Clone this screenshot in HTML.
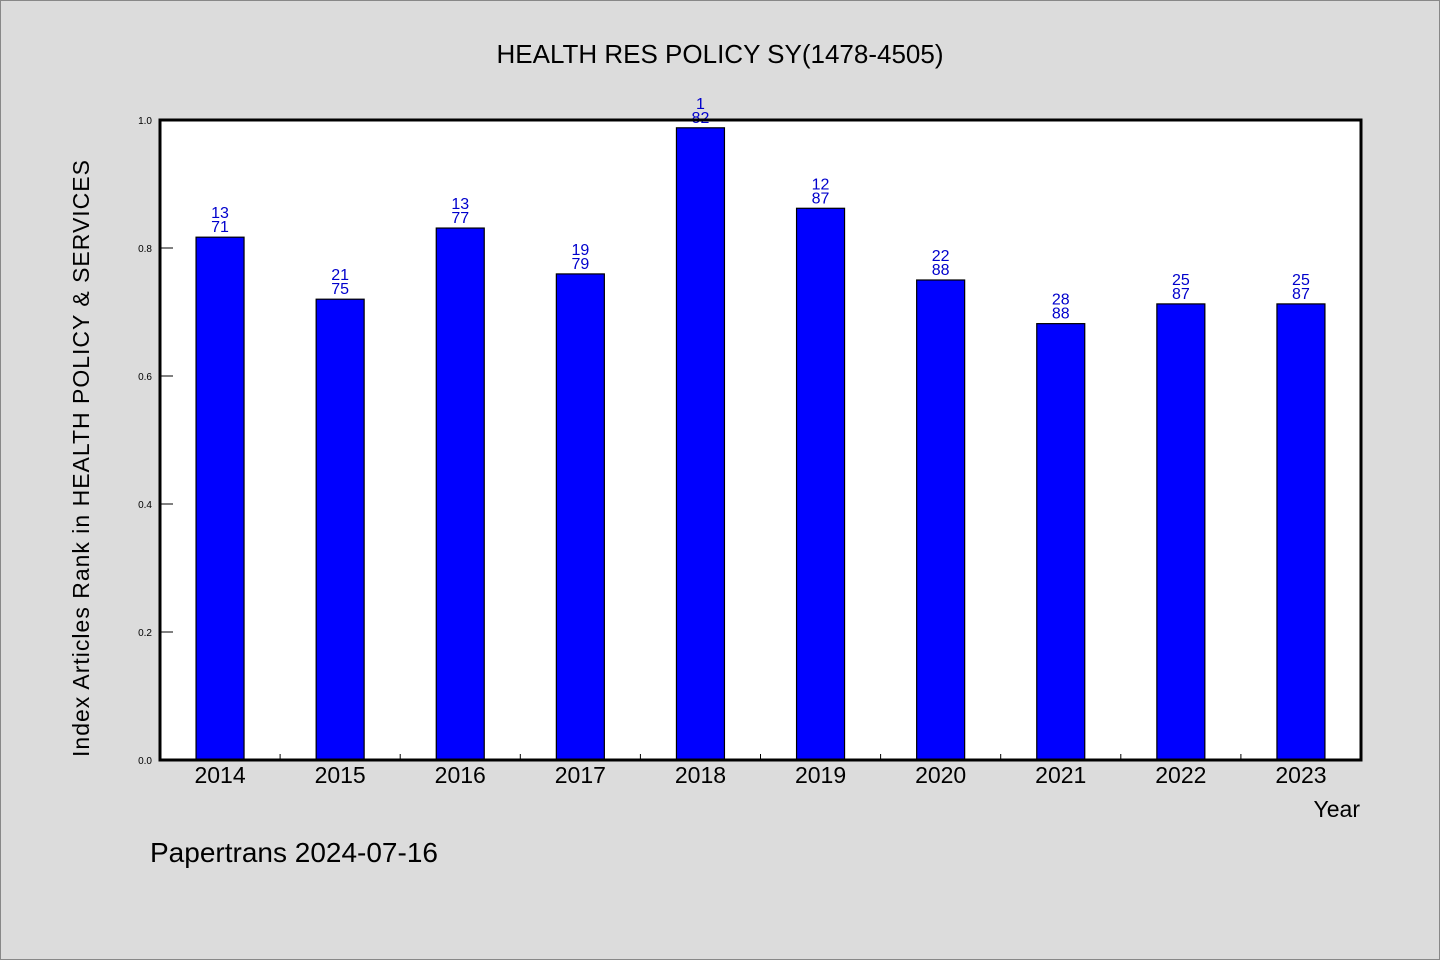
<!DOCTYPE html>
<html><head><meta charset="utf-8">
<style>
html,body{margin:0;padding:0;background:#dcdcdc;}
svg{display:block;font-family:"WenQuanYi Zen Hei","Liberation Sans",sans-serif;}
</style></head>
<body>
<svg id="chart" width="1440" height="960" viewBox="0 0 1440 960" xmlns="http://www.w3.org/2000/svg">
<rect x="0.5" y="0.5" width="1439" height="959" fill="#dcdcdc" stroke="#888"/>
<text x="720" y="63" text-anchor="middle" font-size="26" fill="#000">HEALTH RES POLICY SY(1478-4505)</text>
<rect x="160" y="120" width="1201" height="640" fill="#fff"/>
<g id="bars"></g>
<g id="ticks"></g>
<rect x="160" y="120" width="1201" height="640" fill="none" stroke="#000" stroke-width="3"/>
<text transform="translate(89,458) rotate(-90)" text-anchor="middle" font-size="23" fill="#000" letter-spacing="1">Index Articles Rank in HEALTH POLICY &amp; SERVICES</text>
<text x="1360" y="817" text-anchor="end" font-size="23" fill="#000">Year</text>
<text x="150" y="862" font-size="28" fill="#000">Papertrans 2024-07-16</text>
</svg>
<script>
const years = ["2014","2015","2016","2017","2018","2019","2020","2021","2022","2023"];
const ranks = [13,21,13,19,1,12,22,28,25,25];
const totals = [71,75,77,79,82,87,88,88,87,87];
const yTicks = [0,0.2,0.4,0.6,0.8,1.0];
const NS="http://www.w3.org/2000/svg";
const x0=160,x1=1361,yb=760,yt=120;
const bw=(x1-x0)/years.length;
function xC(i){return x0+bw*(i+0.5);}
function yS(v){return yb-(yb-yt)*v;}
const bars=document.getElementById('bars'),ticks=document.getElementById('ticks');
function mk(tag,attrs,parent){const e=document.createElementNS(NS,tag);for(const k in attrs)e.setAttribute(k,attrs[k]);parent.appendChild(e);return e;}
years.forEach((y,i)=>{
  const v=1-ranks[i]/totals[i];
  const r=mk('rect',{x:xC(i)-24,y:yS(v),width:48,height:yb-yS(v),fill:'#0000ff',stroke:'#000','stroke-width':1.2},bars);
  
  
  const t1=mk('text',{x:xC(i),y:yS(v)-19,'text-anchor':'middle','font-size':16,fill:'#0000cc'},bars);
  t1.textContent=ranks[i];
  
  
  const t2=mk('text',{x:xC(i),y:yS(v)-5,'text-anchor':'middle','font-size':16,fill:'#0000cc'},bars);
  t2.textContent=totals[i];
  
  
  const xl=mk('text',{x:xC(i),y:783,'text-anchor':'middle','font-size':23,fill:'#000'},ticks);
  xl.textContent=y;
  
  
  if(i>0){const tl=mk('line',{x1:x0+bw*i,x2:x0+bw*i,y1:yb,y2:yb-6,stroke:'#000','stroke-width':1},ticks);
  
  }
});
yTicks.forEach(v=>{
  const l=mk('line',{x1:x0,x2:x0+13,y1:yS(v),y2:yS(v),stroke:'#000','stroke-width':1},ticks);
  
  
  const t=mk('text',{x:152,y:yS(v)+4,'text-anchor':'end','font-size':10,fill:'#000'},ticks);
  t.textContent=v.toFixed(1);
  
  
});
</script>
</body></html>
